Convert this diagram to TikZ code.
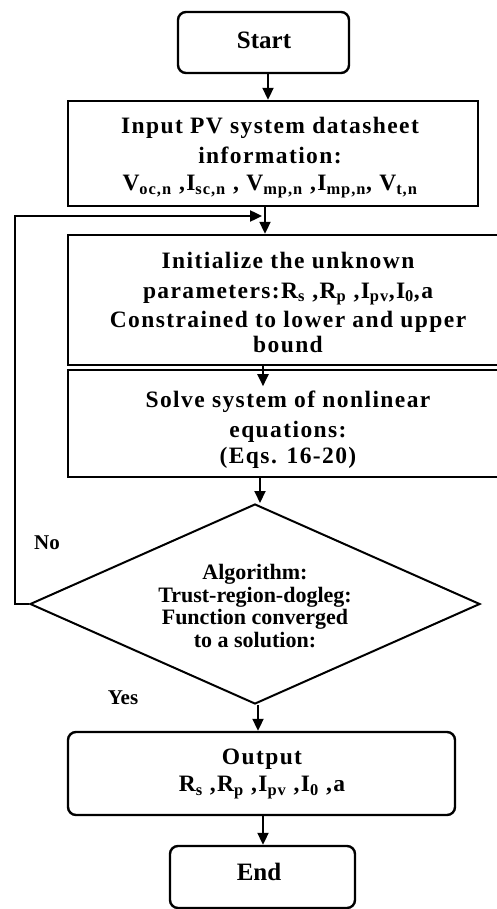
\documentclass[tikz,border=0pt]{standalone}
\usepackage{fontspec}
\setmainfont{Liberation Serif}
\newfontfamily\boxfont{Liberation Serif}[LetterSpace=6]
\usetikzlibrary{arrows.meta,shapes.geometric}
\begin{document}
\begin{tikzpicture}[x=1pt,y=-1pt,
  line/.style={line width=2.4pt},
  arr/.style={line width=2pt,-{Triangle[length=12pt,width=11pt]}},
  boxshape/.style={draw,line width=2.4pt,inner sep=0pt},
  roundbox/.style={boxshape,rounded corners=8pt},
  bigtxt/.style={font=\boxfont\bfseries\fontsize{23.5}{30}\selectfont,align=center,inner sep=0pt},
  termtxt/.style={font=\bfseries\fontsize{25}{28}\selectfont,inner sep=0pt},
  dtxt/.style={font=\bfseries\fontsize{22}{22.7}\selectfont,align=center,inner sep=0pt},
  lbl/.style={font=\bfseries\fontsize{21}{24}\selectfont,inner sep=0pt}]
\useasboundingbox (0,0) rectangle (497,909);
\clip (0,0) rectangle (497,909);
\fill[white] (0,0) rectangle (497,909);

% boxes
\node[roundbox,minimum width=171pt,minimum height=61pt] (start) at (263.5,42.5) {};
\node[boxshape,minimum width=410pt,minimum height=105pt] (input) at (273,153.5) {};
\node[boxshape,minimum width=460pt,minimum height=130pt] (init) at (298,300) {};
\node[boxshape,minimum width=460pt,minimum height=107pt] (solve) at (298,423.5) {};
\node[draw,diamond,line width=2pt,minimum width=450pt,minimum height=200pt,inner sep=0pt] (dec) at (255,604) {};
\node[roundbox,minimum width=387pt,minimum height=83pt] (output) at (261.5,773.5) {};
\node[roundbox,minimum width=185pt,minimum height=62pt] (end) at (262.5,877) {};

% texts
\node[termtxt] (tstart) at (264,40) {Start};
\node[bigtxt] (tinput) at (270,157.5) {Input PV system datasheet\\information:\\[-3pt]
  V\textsubscript{oc,n} ,I\textsubscript{sc,n} , V\textsubscript{mp,n} ,I\textsubscript{mp,n}, V\textsubscript{t,n}};
\node[bigtxt] (tinit) at (288,302) {Initialize the unknown\\[0pt]
  parameters:R\textsubscript{s} ,R\textsubscript{p} ,I\textsubscript{pv},I\textsubscript{0},a\\[-1pt]
  Constrained to lower and upper\\[-5pt] bound};
\node[bigtxt] (tsolve) at (288,430) {Solve system of nonlinear\\equations:\\[-4pt](Eqs. 16-20)};
\node[dtxt] (tdec) at (255,606) {Algorithm:\\Trust-region-dogleg:\\Function converged\\to a solution:};
\node[bigtxt] (toutput) at (262,774) {Output\\[-3pt]R\textsubscript{s} ,R\textsubscript{p} ,I\textsubscript{pv} ,I\textsubscript{0} ,a};
\node[termtxt] (tend) at (259,872) {End};
\node[lbl] (no) at (47,543) {No};
\node[lbl] (yes) at (123,698) {Yes};

% connectors
\coordinate (c1) at (268,0);
\coordinate (c2) at (265,0);
\coordinate (c3) at (263,0);
\coordinate (c4) at (260,0);
\coordinate (c5) at (258,0);
\coordinate (lpx) at (15,216);
\coordinate (lptip) at (262,216);
\draw[arr] (start.south -| c1) -- (input.north -| c1);
\draw[arr] (input.south -| c2) -- (init.north -| c2);
\draw[arr] (init.south -| c3) -- ++(0,20);
\draw[arr] (solve.south -| c4) -- (dec.north -| c4);
\draw[arr] (dec.south -| c5) -- (output.north -| c5);
\draw[arr] (output.south -| c3) -- (end.north -| c3);
\draw[arr,line width=2.4pt] (dec.west) -| (lpx) -- (lptip);
\end{tikzpicture}
\end{document}
